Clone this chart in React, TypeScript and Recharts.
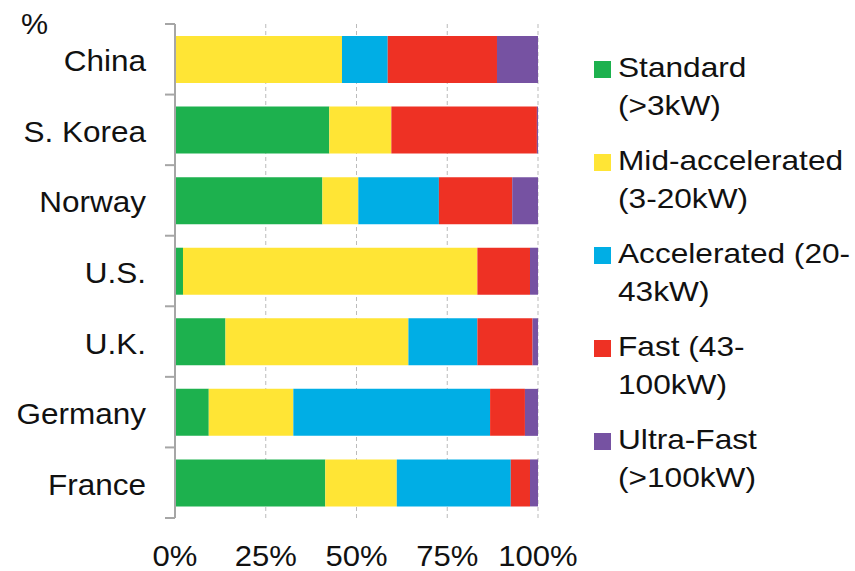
import React from 'react';
import { BarChart, Bar, XAxis, YAxis, CartesianGrid } from 'recharts';

const countries = ['China', 'S. Korea', 'Norway', 'U.S.', 'U.K.', 'Germany', 'France'];
const standard = [0, 42.5, 40.6, 2.2, 13.9, 9.3, 41.4];
const midAccelerated = [46, 17.1, 9.9, 81.1, 50.4, 23.3, 19.7];
const accelerated = [12.6, 0, 22.2, 0, 19.0, 54.2, 31.4];
const fast = [30.1, 40.1, 20.2, 14.5, 15.2, 9.6, 5.3];
const ultraFast = [11.3, 0.3, 7.1, 2.2, 1.5, 3.6, 2.2];
const xTicks = [0, 25, 50, 75, 100];

const series = [
  { key: 'standard', lines: ['Standard', '(>3kW)'], color: '#1db14e', values: standard },
  { key: 'mid', lines: ['Mid-accelerated', '(3-20kW)'], color: '#ffe535', values: midAccelerated },
  { key: 'accel', lines: ['Accelerated (20-', '43kW)'], color: '#00aee5', values: accelerated },
  { key: 'fast', lines: ['Fast (43-', '100kW)'], color: '#ee3124', values: fast },
  { key: 'ultra', lines: ['Ultra-Fast', '(>100kW)'], color: '#7652a2', values: ultraFast },
];

const data = countries.map((country, i) => {
  const row: Record<string, any> = { country };
  series.forEach((s) => { row[s.key] = s.values[i]; });
  return row;
});

const W = 855;
const H = 571;
const TOP = 24;
const X_AXIS_H = 53;
const Y_AXIS_W = 175;
const RIGHT = 317;
const BAND = (H - TOP - X_AXIS_H) / countries.length;
const FONT = '"Liberation Sans", Arial, sans-serif';
const AXIS_GRAY = '#a6a6a6';

// category ticks sit on the band edges, like the spreadsheet original
const YTick = (props: any) => {
  const { y, payload, index } = props;
  return (
    <g>
      <line x1={Y_AXIS_W - 10} x2={Y_AXIS_W} y1={y - BAND / 2} y2={y - BAND / 2} stroke={AXIS_GRAY} strokeWidth={2} />
      {index === countries.length - 1 && (
        <line x1={Y_AXIS_W - 10} x2={Y_AXIS_W} y1={y + BAND / 2} y2={y + BAND / 2} stroke={AXIS_GRAY} strokeWidth={2} />
      )}
      <text
        x={0}
        y={0}
        transform={`translate(${Y_AXIS_W - 29}, ${y + 12}) scale(1.05, 1)`}
        textAnchor="end"
        fontSize={30}
        fontFamily={FONT}
        fill="#111"
      >
        {payload.value}
      </text>
    </g>
  );
};

const XTick = (props: any) => {
  const { x, y, payload } = props;
  return (
    <text
      x={0}
      y={0}
      transform={`translate(${x}, ${y + 40}) scale(1.07, 1)`}
      textAnchor="middle"
      fontSize={29}
      fontFamily={FONT}
      fill="#111"
    >
      {`${payload.value}%`}
    </text>
  );
};

const PercentLabel = () => (
  <text x={0} y={0} transform="translate(21, 34) scale(1.05, 1)" fontSize={29} fontFamily={FONT} fill="#111">%</text>
);

function LegendBox() {
  return (
    <div style={{ position: 'absolute', left: 594, top: 49, fontFamily: FONT }}>
      {series.map((s) => (
        <div key={s.key} style={{ position: 'relative', height: 76, marginBottom: 17 }}>
          <div style={{ position: 'absolute', left: 0, top: 12, width: 17, height: 17, background: s.color }} />
          <div
            style={{
              position: 'absolute',
              left: 24,
              top: 0,
              fontSize: 28,
              lineHeight: '38px',
              color: '#111',
              whiteSpace: 'nowrap',
              transform: 'scale(1.13, 1)',
              transformOrigin: 'left top',
            }}
          >
            {s.lines.map((l) => (
              <div key={l}>{l}</div>
            ))}
          </div>
        </div>
      ))}
    </div>
  );
}

export default function App() {
  return (
    <div style={{ position: 'absolute', left: 0, top: 0, width: W, height: H, background: '#fff' }}>
      <BarChart
        width={W}
        height={H}
        data={data}
        layout="vertical"
        barSize={47}
        margin={{ top: TOP, right: RIGHT, left: 0, bottom: 0 }}
      >
        <CartesianGrid horizontal={false} stroke="#bbbbbb" strokeDasharray="4 3" />
        <XAxis
          type="number"
          domain={[0, 100]}
          ticks={xTicks}
          height={X_AXIS_H}
          axisLine={false}
          tickLine={false}
          tick={<XTick />}
          interval={0}
        />
        <YAxis
          type="category"
          dataKey="country"
          width={Y_AXIS_W}
          axisLine={{ stroke: AXIS_GRAY, strokeWidth: 2 }}
          tickLine={false}
          tick={<YTick />}
          interval={0}
          label={<PercentLabel />}
        />
        {series.map((s) => (
          <Bar key={s.key} dataKey={s.key} stackId="a" fill={s.color} isAnimationActive={false} />
        ))}
      </BarChart>
      <LegendBox />
    </div>
  );
}
